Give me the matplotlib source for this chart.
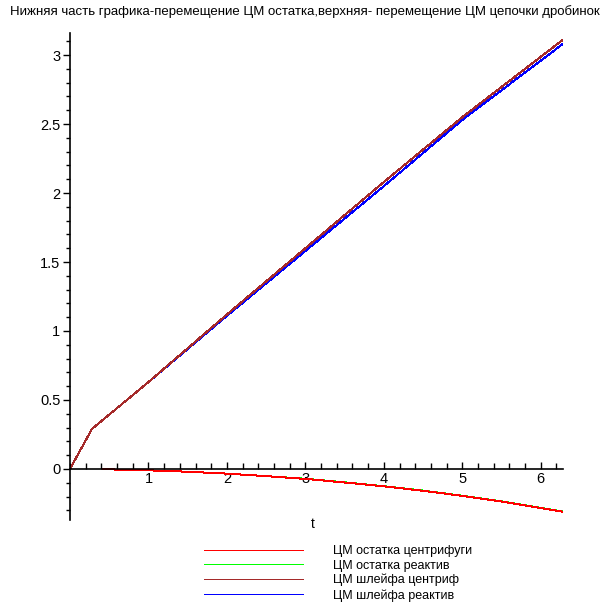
import matplotlib
matplotlib.use("Agg")
import matplotlib.pyplot as plt
from matplotlib.ticker import MultipleLocator

plt.rcParams['font.family'] = ['Liberation Sans', 'DejaVu Sans']

title = "Нижняя часть графика-перемещение ЦМ остатка,верхняя- перемещение ЦМ цепочки дробинок"
labels = ["ЦМ остатка центрифуги", "ЦМ остатка реактив", "ЦМ шлейфа центриф", "ЦМ шлейфа реактив"]
colors = ["#ff0000", "#00ff00", "#a52a2a", "#0000ff"]

# lower curves (residue CM)
t_low = [0.42, 1.0, 1.5, 2.0, 2.5, 3.0, 3.5, 4.0, 4.5, 5.0, 5.5, 6.0, 6.28]
y_red = [-0.002, -0.01, -0.02, -0.034, -0.052, -0.072, -0.098, -0.126, -0.158, -0.195, -0.236, -0.283, -0.31]
y_green = [-0.002, -0.01, -0.02, -0.034, -0.052, -0.071, -0.097, -0.125, -0.157, -0.194, -0.235, -0.282, -0.309]

# upper curves (chain CM)
t_up = [0.0, 0.28, 1.0, 2.0, 3.0, 4.0, 5.0, 6.28]
y_brown = [0.0, 0.29, 0.63, 1.12, 1.60, 2.08, 2.55, 3.11]
y_blue = [0.0, 0.29, 0.63, 1.11, 1.58, 2.05, 2.53, 3.08]

fig = plt.figure(figsize=(6.1, 6.1), dpi=100)
ax = fig.add_axes([70/610, 1-520/610, (563-70)/610, (520-33)/610])

lw = 0.72
l2, = ax.plot(t_low, y_green, color=colors[1], lw=lw, antialiased=False)
l1, = ax.plot(t_low, y_red, color=colors[0], lw=lw, antialiased=False)
l4, = ax.plot(t_up, y_blue, color=colors[3], lw=lw, antialiased=False)
l3, = ax.plot(t_up, y_brown, color=colors[2], lw=lw, antialiased=False)

ax.set_xlim(0, 6.2832)
ax.set_ylim(-0.37, 3.16)

for s in ['top', 'right']:
    ax.spines[s].set_visible(False)
ax.spines['bottom'].set_position(('data', 0))
ax.spines['left'].set_position(('data', 0))
ax.spines['bottom'].set_linewidth(1.2)
ax.spines['left'].set_linewidth(1.2)

ax.set_xticks([1, 2, 3, 4, 5, 6])
ax.xaxis.set_minor_locator(MultipleLocator(0.2))
ax.set_yticks([0, 0.5, 1, 1.5, 2, 2.5, 3])
ax.set_yticklabels(["0", "0.5", "1", "1.5", "2", "2.5", "3"])
ax.yaxis.set_minor_locator(MultipleLocator(0.1))

ax.tick_params(axis='x', which='major', direction='in', length=5, width=1, labelsize=10.5, pad=2)
ax.tick_params(axis='x', which='minor', direction='in', length=4, width=1)
ax.tick_params(axis='y', which='major', direction='out', length=5, width=1, labelsize=10.5, pad=2)
ax.tick_params(axis='y', which='minor', direction='out', length=3, width=1)

ax.text(3.1, -0.40, "t", ha='center', va='center', fontsize=10)

fig.text(0.5, 1-12/610, title, ha='center', va='center', fontsize=9.5)

leg = fig.legend([l1, l2, l3, l4], labels, loc='upper left',
           bbox_to_anchor=(194/610, 1-535/610), frameon=False,
           fontsize=9, handlelength=7.9, handletextpad=2.4,
           labelspacing=0.2, borderpad=0.3)
for h in leg.legend_handles:
    h.set_antialiased(False)
    h.set_linewidth(lw)

fig.savefig("out.png", dpi=100)
